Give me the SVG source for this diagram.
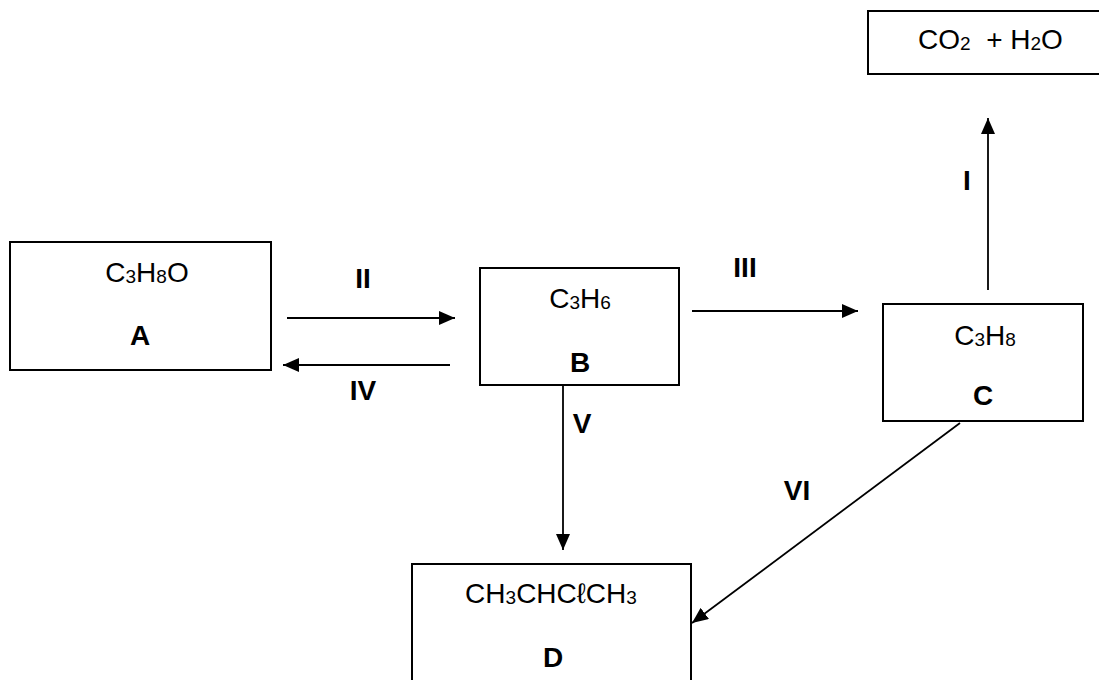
<svg xmlns="http://www.w3.org/2000/svg" width="1099" height="680" viewBox="0 0 1099 680">
<style>
.box{fill:#fff;stroke:#000;stroke-width:2}
.t{font-family:"Liberation Sans",Arial,sans-serif;font-size:28px;text-anchor:middle;fill:#000}
.b{font-weight:bold}
.s{font-size:19px}
.c{stroke:#000;stroke-width:1.8;fill:none;marker-end:url(#ah)}
</style>
<defs>
<marker id="ah" viewBox="0 0 10 10" refX="10" refY="5" markerWidth="16" markerHeight="14" markerUnits="userSpaceOnUse" orient="auto" preserveAspectRatio="none">
<path d="M0,0 L10,5 L0,10 z" fill="#000"/>
</marker>
</defs>
<rect width="1099" height="680" fill="#fff"/>
<g id="top">
<rect class="box" x="868" y="11" width="240" height="63"/>
<text class="t" x="918" y="49" style="text-anchor:start">CO<tspan class="s" dy="1">2</tspan><tspan dy="-1" xml:space="preserve">  + H</tspan><tspan class="s" dy="1">2</tspan><tspan dy="-1">O</tspan></text>
</g>
<g id="A">
<rect class="box" x="10" y="242" width="261" height="128"/>
<text class="t" x="147" y="282">C<tspan class="s" dy="1">3</tspan><tspan dy="-1">H</tspan><tspan class="s" dy="1">8</tspan><tspan dy="-1">O</tspan></text>
<text class="t b" x="140" y="345">A</text>
</g>
<g id="B">
<rect class="box" x="480" y="268" width="199" height="117"/>
<text class="t" x="580" y="308">C<tspan class="s" dy="1">3</tspan><tspan dy="-1">H</tspan><tspan class="s" dy="1">6</tspan></text>
<text class="t b" x="580" y="372">B</text>
</g>
<g id="C">
<rect class="box" x="883" y="304" width="200" height="117"/>
<text class="t" x="985" y="345">C<tspan class="s" dy="1">3</tspan><tspan dy="-1">H</tspan><tspan class="s" dy="1">8</tspan></text>
<text class="t b" x="983" y="405">C</text>
</g>
<g id="D">
<rect class="box" x="412" y="564" width="279" height="130"/>
<text class="t" x="551" y="603">CH<tspan class="s" dy="1">3</tspan><tspan dy="-1">CHCℓCH</tspan><tspan class="s" dy="1">3</tspan></text>
<text class="t b" x="553" y="667">D</text>
</g>
<g id="connectors">
<line class="c" x1="287" y1="318" x2="455" y2="318"/>
<line class="c" x1="450" y1="365" x2="283" y2="365"/>
<line class="c" x1="692" y1="311" x2="858" y2="311"/>
<line class="c" x1="988" y1="290" x2="988" y2="118"/>
<line class="c" x1="563" y1="385" x2="563" y2="550"/>
<line class="c" x1="960" y1="423" x2="692" y2="623"/>
</g>
<g id="labels">
<text class="t b" x="363" y="288">II</text>
<text class="t b" x="745" y="277">III</text>
<text class="t b" x="363" y="400">IV</text>
<text class="t b" x="582" y="433">V</text>
<text class="t b" x="797" y="500">VI</text>
<text class="t b" x="967" y="190">I</text>
</g>
</svg>
